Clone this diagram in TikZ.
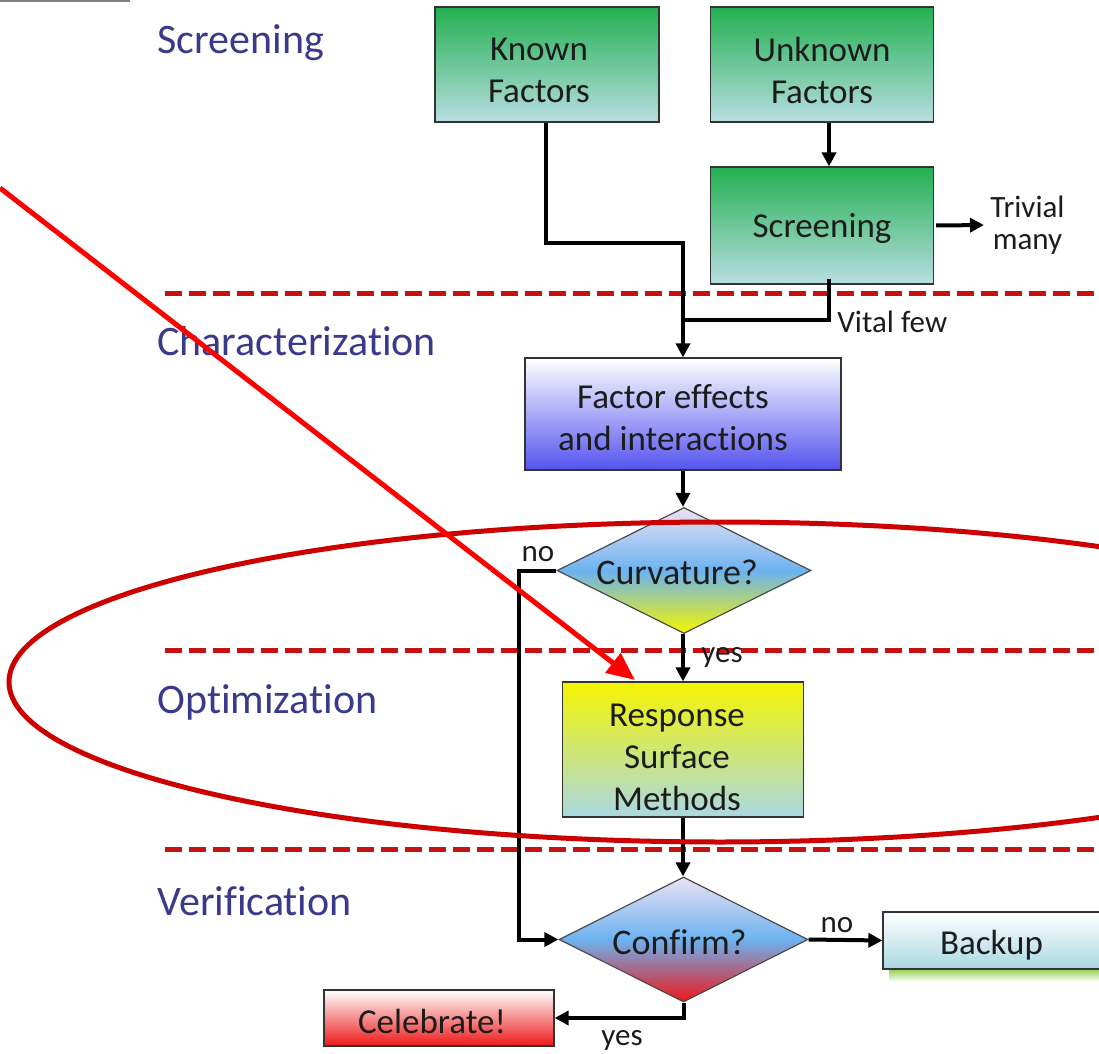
\documentclass[tikz,border=0pt]{standalone}
\usepackage{fontspec}
\setmainfont{Carlito}[Ligatures=NoCommon]
\usetikzlibrary{shapes.geometric,arrows.meta}
\definecolor{stage}{RGB}{58,58,140}
\definecolor{dashred}{RGB}{200,18,18}
\definecolor{ellred}{RGB}{204,0,0}
\definecolor{arrred}{RGB}{255,0,0}
\definecolor{gtop}{RGB}{34,176,80}
\definecolor{gbot}{RGB}{184,222,226}
\definecolor{lav}{RGB}{234,226,244}
\definecolor{midblue}{RGB}{108,178,240}
\definecolor{yel}{RGB}{245,245,0}
\definecolor{fblue}{RGB}{84,84,240}
\definecolor{cyanbot}{RGB}{170,216,226}
\definecolor{cred}{RGB}{238,24,24}
\definecolor{txt}{RGB}{28,28,28}
\tikzset{
  box/.style={draw=black!80, line width=0.6pt, inner sep=0pt},
  greenbox/.style={box, top color=gtop, bottom color=gbot},
  diam/.style={diamond, draw=black!70, line width=0.6pt, inner sep=0pt, aspect=2},
  boxtext/.style={align=center, inner sep=0pt, text=txt, font=\fontsize{17.5}{21}\selectfont},
  diamtext/.style={boxtext, font=\fontsize{18}{21}\selectfont},
  conn/.style={line width=2pt, black},
  arr/.style={conn, -{Triangle[length=7pt,width=7pt]}},
  lab/.style={font=\fontsize{15.5}{16}\selectfont, inner sep=0pt, text=txt},
  stagelab/.style={font=\fontsize{21}{24}\selectfont, text=stage, anchor=base west, inner sep=0pt},
  sepline/.style={dashred, line width=2.5pt, dash pattern=on 8.5pt off 3.5pt}
}
\begin{document}
\begin{tikzpicture}[x=0.5pt,y=-0.5pt]
\useasboundingbox (0,0) rectangle (1099,1054);
\clip (0,0) rectangle (1099,1054);
\fill[white] (0,0) rectangle (1099,1054);
% top-left grey line
\draw[gray, line width=1.2pt] (0,1) -- (130,1);
% separators
\draw[sepline] (165,293) -- (1110,293);
\draw[sepline] (165,650) -- (1110,650);
\draw[sepline] (165,849) -- (1110,849);
% stage labels
\node[stagelab] (s1) at (157,54) {Screening};
\node[stagelab] (s2) at (157,355) {Characterization};
\node[stagelab] (s3) at (157,713) {Optimization};
\node[stagelab] (s4) at (157,915) {Verification};
% boxes
\node[greenbox, minimum width=112pt, minimum height=57.5pt,
  label={[boxtext, xshift=-4pt, yshift=-3.2pt]center:{Known\\Factors}}] (known) at (547,64.5) {};
\node[greenbox, minimum width=111.5pt, minimum height=57.5pt,
  label={[boxtext, yshift=-3pt]center:{Unknown\\Factors}}] (unknown) at (822,64.5) {};
\node[greenbox, minimum width=111.5pt, minimum height=58.5pt,
  label={[boxtext, yshift=-1.5pt]center:Screening}] (screen) at (822,225.5) {};
\node[box, top color=white, bottom color=fblue, minimum width=158pt, minimum height=56pt,
  label={[boxtext, xshift=-5pt, yshift=-2pt]center:{Factor effects\\and interactions}}] (factor) at (683,414) {};
\node[diam, top color=lav, bottom color=yel, middle color=midblue, minimum width=127pt, minimum height=63pt,
  label={[diamtext, xshift=-3.5pt, yshift=-1pt]center:Curvature?}] (curv) at (684,570.5) {};
\node[box, top color=yel, bottom color=cyanbot, minimum width=120.5pt, minimum height=67.5pt,
  label={[boxtext, xshift=-3pt, yshift=-4pt]center:{Response\\Surface\\Methods}}] (rsm) at (683,749.5) {};
\node[diam, top color=lav, bottom color=cred, middle color=midblue, minimum width=124.5pt, minimum height=62.5pt,
  label={[diamtext, xshift=-2pt, yshift=-1.5pt]center:Confirm?}] (confirm) at (683.5,939.5) {};
\shade[top color={rgb,255:red,140;green,204;blue,72}, bottom color=white] (889,968) rectangle (1099,982);
\node[box, top color=white, bottom color=cyanbot, minimum width=108.5pt, minimum height=28.5pt,
  label={[boxtext, yshift=-2.5pt]center:Backup}] (backup) at (991.5,940.5) {};
\node[box, top color=white, bottom color=cred, minimum width=115pt, minimum height=28pt,
  label={[boxtext, xshift=-3.5pt, yshift=-1.5pt]center:Celebrate!}] (celebrate) at (439,1018) {};
% labels
\node[lab, align=center, anchor=west] (trivial) at (990,225) {Trivial\\many};
\node[lab, anchor=west] (vital) at (837,322) {Vital few};
\node[lab] (no1) at (538,554) {no};
\node[lab] (yes1) at (722,657) {yes};
\node[lab] (no2) at (837,925) {no};
\node[lab] (yes2) at (622,1040) {yes};
% connectors
\coordinate (ax) at (829,0);
\coordinate (j1) at (0,243);
\coordinate (j2) at (0,320);
\coordinate (nox) at (519,0);
\draw[arr] (known.south -| 546,0) |- (factor.north |- j1) -- (factor.north);
\draw[arr] (unknown.south -| ax) -- (screen.north -| ax);
\draw[conn] ([yshift=3pt]screen.south -| ax) |- (factor.north |- j2);
\draw[arr, shorten <=1pt, shorten >=3pt] (screen.east) -- (trivial.west);
\draw[arr] (factor.south) -- (factor.south |- curv.north);
\draw[arr] (curv.west) -| (nox |- confirm.west) -- (confirm.west);
\draw[arr] (curv.south -| rsm.north) -- (rsm.north);
\draw[arr] (rsm.south) -- (rsm.south |- confirm.north);
\draw[arr] (confirm.east) -- (backup.west);
\draw[arr] (confirm.south) |- (celebrate.east);
% ellipse and red arrow
\draw[ellred, line width=2.5pt] (720,682) ellipse [x radius=355.5pt, y radius=80pt];
\coordinate (rstart) at (0,188);
\coordinate (rtip) at (635,680);
\draw[arrred, line width=2.5pt, -{Triangle[length=14pt,width=12pt]}] (rstart) -- (rtip);
\end{tikzpicture}
\end{document}
